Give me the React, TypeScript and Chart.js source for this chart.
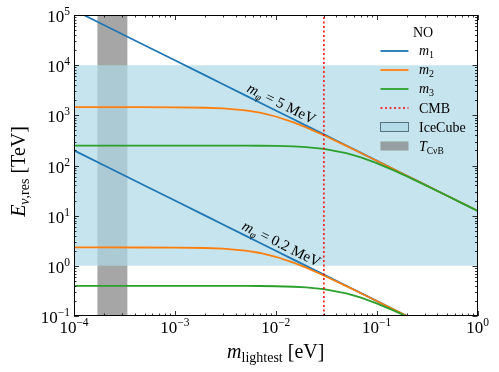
import React, { useEffect, useRef } from "react";
import { Chart, registerables } from "chart.js";

Chart.register(...registerables);

// ---- data ----
const mLightest = [1e-4, 2e-4, 5e-4, 1e-3, 2e-3, 3e-3, 5e-3, 7e-3, 0.01, 0.015, 0.02, 0.03, 0.05, 0.07, 0.1, 0.15, 0.2, 0.3, 0.5, 0.7, 1];

// m_phi = 5 MeV
const e5m1 = [125000, 62500, 25000, 12500, 6250, 4167, 2500, 1786, 1250, 833, 625, 417, 250, 178.6, 125, 83.3, 62.5, 41.7, 25, 17.86, 12.5];
const e5m2 = [1453, 1453, 1451, 1443, 1415, 1372, 1256, 1127, 948, 723, 574, 400.5, 246.4, 177.2, 124.5, 83.2, 62.4, 41.65, 25.0, 17.86, 12.5];
const e5m3 = [250, 250, 250, 249.95, 249.8, 249.6, 248.8, 247.6, 245.1, 239.5, 232.1, 214.4, 176.8, 145.3, 111.8, 79.06, 60.63, 41.1, 24.88, 17.81, 12.48];

// m_phi = 0.2 MeV
const e02m1 = [200, 100, 40, 20, 10, 6.67, 4, 2.857, 2, 1.333, 1, 0.667, 0.4, 0.2857, 0.2, 0.1333, 0.1, 0.0667, 0.04, 0.0286, 0.02];
const e02m2 = [2.325, 2.324, 2.321, 2.309, 2.265, 2.195, 2.01, 1.803, 1.516, 1.157, 0.919, 0.641, 0.394, 0.2836, 0.1993, 0.1331, 0.0999, 0.0666, 0.04, 0.0286, 0.02];
const e02m3 = [0.4, 0.4, 0.4, 0.3999, 0.3997, 0.3993, 0.398, 0.3961, 0.3922, 0.3831, 0.3714, 0.343, 0.2828, 0.2325, 0.1789, 0.1265, 0.097, 0.0658, 0.0398, 0.0285, 0.02];

const massLabels = ["5 MeV", "0.2 MeV"];
const iceCubeRange = [1, 1e4];
const tCnuBRange = [1.7e-4, 3.4e-4];
const cmbMass = 0.03;

const xRange = [1e-4, 1];
const yRange = [0.1, 1e5];
const xTickExps = [-4, -3, -2, -1, 0];
const yTickExps = [-1, 0, 1, 2, 3, 4, 5];

const legendTitle = "NO";

// ---- styles ----
const C1 = "#1f77b4";
const C2 = "#ff7f0e";
const C3 = "#2ca02c";
const CMB_COLOR = "#ff0000";
const ICE_FILL = "rgba(173,216,230,0.7)";
const ICE_EDGE = "rgba(70,95,110,0.85)";
const GRAY_FILL = "rgba(128,128,128,0.7)";
const SERIF = '"Liberation Serif", "DejaVu Serif", serif';

type Seg = { t: string; f: string; dy?: number };

function segsWidth(ctx: CanvasRenderingContext2D, segs: Seg[]) {
  let w = 0;
  for (const s of segs) {
    ctx.font = s.f;
    w += ctx.measureText(s.t).width;
  }
  return w;
}

function drawSegs(ctx: CanvasRenderingContext2D, segs: Seg[], x: number, y: number, align: "left" | "center" | "right") {
  const w = segsWidth(ctx, segs);
  let cx = align === "left" ? x : align === "center" ? x - w / 2 : x - w;
  ctx.textAlign = "left";
  ctx.textBaseline = "alphabetic";
  for (const s of segs) {
    ctx.font = s.f;
    ctx.fillText(s.t, cx, y + (s.dy || 0));
    cx += ctx.measureText(s.t).width;
  }
}

function powSegs(exp: number): Seg[] {
  const e = exp < 0 ? "\u2212" + Math.abs(exp) : String(exp);
  return [
    { t: "10", f: `17px ${SERIF}` },
    { t: e, f: `11.5px ${SERIF}`, dy: -7 },
  ];
}

function line(ctx: CanvasRenderingContext2D, x1: number, y1: number, x2: number, y2: number) {
  ctx.beginPath();
  ctx.moveTo(x1, y1);
  ctx.lineTo(x2, y2);
  ctx.stroke();
}

const decorPlugin = {
  id: "decor",
  afterDraw(chart: any) {
    const ctx: CanvasRenderingContext2D = chart.ctx;
    const xs = chart.scales.x;
    const ys = chart.scales.y;
    const a = chart.chartArea;
    ctx.save();

    // frame
    ctx.strokeStyle = "#000";
    ctx.lineWidth = 1;
    ctx.strokeRect(Math.round(a.left) + 0.5, Math.round(a.top) + 0.5, Math.round(a.right - a.left) - 1, Math.round(a.bottom - a.top) - 1);

    // ticks (inward, all sides)
    const MAJ = 5;
    const MIN = 2.5;
    ctx.lineWidth = 0.8;
    for (let i = 0; i < xTickExps.length; i++) {
      const e = xTickExps[i];
      const px = Math.round(xs.getPixelForValue(Math.pow(10, e))) + 0.5;
      line(ctx, px, a.bottom, px, a.bottom - MAJ);
      line(ctx, px, a.top, px, a.top + MAJ);
      if (i < xTickExps.length - 1) {
        for (let k = 2; k <= 9; k++) {
          const mx = Math.round(xs.getPixelForValue(k * Math.pow(10, e))) + 0.5;
          line(ctx, mx, a.bottom, mx, a.bottom - MIN);
          line(ctx, mx, a.top, mx, a.top + MIN);
        }
      }
    }
    for (let i = 0; i < yTickExps.length; i++) {
      const e = yTickExps[i];
      const py = Math.round(ys.getPixelForValue(Math.pow(10, e))) + 0.5;
      line(ctx, a.left, py, a.left + MAJ, py);
      line(ctx, a.right, py, a.right - MAJ, py);
      if (i < yTickExps.length - 1) {
        for (let k = 2; k <= 9; k++) {
          const my = Math.round(ys.getPixelForValue(k * Math.pow(10, e))) + 0.5;
          line(ctx, a.left, my, a.left + MIN, my);
          line(ctx, a.right, my, a.right - MIN, my);
        }
      }
    }

    // tick labels
    ctx.fillStyle = "#000";
    for (const e of xTickExps) {
      const px = xs.getPixelForValue(Math.pow(10, e));
      drawSegs(ctx, powSegs(e), px, a.bottom + 17, "center");
    }
    for (const e of yTickExps) {
      const py = ys.getPixelForValue(Math.pow(10, e));
      drawSegs(ctx, powSegs(e), a.left - 4, py + 7, "right");
    }

    // axis titles
    const cxPlot = (a.left + a.right) / 2;
    drawSegs(
      ctx,
      [
        { t: "m", f: `italic 20px ${SERIF}` },
        { t: "lightest", f: `14px ${SERIF}`, dy: 4 },
        { t: " [eV]", f: `20px ${SERIF}` },
      ],
      cxPlot,
      358,
      "center"
    );
    ctx.save();
    ctx.translate(25, (a.top + a.bottom) / 2 + 6);
    ctx.rotate(-Math.PI / 2);
    drawSegs(
      ctx,
      [
        { t: "E", f: `italic 20px ${SERIF}` },
        { t: "\u03bd", f: `italic 14px ${SERIF}`, dy: 4 },
        { t: ",res", f: `14px ${SERIF}`, dy: 4 },
        { t: " [TeV]", f: `20px ${SERIF}` },
      ],
      0,
      0,
      "center"
    );
    ctx.restore();

    // line annotations
    const groups = [e5m1, e02m1];
    for (let g = 0; g < groups.length; g++) {
      const vals = groups[g];
      const p1x = xs.getPixelForValue(mLightest[6]);
      const p1y = ys.getPixelForValue(vals[6]);
      const p2x = xs.getPixelForValue(mLightest[10]);
      const p2y = ys.getPixelForValue(vals[10]);
      const ang = Math.atan2(p2y - p1y, p2x - p1x);
      const ax = xs.getPixelForValue(mLightest[8]);
      const ay = ys.getPixelForValue(vals[8]);
      ctx.save();
      ctx.translate(ax, ay);
      ctx.rotate(ang);
      drawSegs(
        ctx,
        [
          { t: "m", f: `italic 15px ${SERIF}` },
          { t: "\u03c6", f: `italic 10px ${SERIF}`, dy: 3 },
          { t: " = " + massLabels[g], f: `15px ${SERIF}` },
        ],
        2,
        -4,
        "center"
      );
      ctx.restore();
    }

    // legend
    const hx1 = 380.5;
    const hx2 = 408.5;
    const tx = 419;
    const rows = [51, 70, 89, 108, 127, 146];
    ctx.fillStyle = "#000";
    drawSegs(ctx, [{ t: legendTitle, f: `14px ${SERIF}` }], 423, 36.5, "center");
    const lineEntries = [
      { c: C1, sub: "1" },
      { c: C2, sub: "2" },
      { c: C3, sub: "3" },
    ];
    lineEntries.forEach((le, i) => {
      ctx.strokeStyle = le.c;
      ctx.lineWidth = 1.8;
      ctx.setLineDash([]);
      line(ctx, hx1, rows[i], hx2, rows[i]);
      ctx.fillStyle = "#000";
      drawSegs(
        ctx,
        [
          { t: "m", f: `italic 14px ${SERIF}` },
          { t: le.sub, f: `10px ${SERIF}`, dy: 3 },
        ],
        tx,
        rows[i] + 3.5,
        "left"
      );
    });
    ctx.strokeStyle = CMB_COLOR;
    ctx.lineWidth = 1.5;
    ctx.setLineDash([2, 2.5]);
    line(ctx, hx1, rows[3], hx2, rows[3]);
    ctx.setLineDash([]);
    drawSegs(ctx, [{ t: "CMB", f: `14px ${SERIF}` }], tx, rows[3] + 4.5, "left");

    ctx.fillStyle = ICE_FILL;
    ctx.fillRect(hx1, rows[4] - 4.5, hx2 - hx1, 9);
    ctx.strokeStyle = ICE_EDGE;
    ctx.lineWidth = 1;
    ctx.strokeRect(hx1, rows[4] - 4.5, hx2 - hx1, 9);
    ctx.fillStyle = "#000";
    drawSegs(ctx, [{ t: "IceCube", f: `14px ${SERIF}` }], tx, rows[4] + 4.5, "left");

    ctx.fillStyle = GRAY_FILL;
    ctx.fillRect(hx1, rows[5] - 4.5, hx2 - hx1, 9);
    ctx.fillStyle = "#000";
    drawSegs(
      ctx,
      [
        { t: "T", f: `italic 14px ${SERIF}` },
        { t: "C\u03bdB", f: `9.5px ${SERIF}`, dy: 3 },
      ],
      tx,
      rows[5] + 4.5,
      "left"
    );

    ctx.restore();
  },
};

function pts(vals: number[]) {
  return mLightest.map((x, i) => ({ x, y: vals[i] }));
}

function lineDs(label: string, vals: number[], color: string, order: number) {
  return {
    label,
    data: pts(vals),
    borderColor: color,
    backgroundColor: color,
    borderWidth: 1.8,
    pointRadius: 0,
    tension: 0,
    fill: false,
    order,
  };
}

export default function App() {
  const ref = useRef<HTMLCanvasElement | null>(null);
  useEffect(() => {
    if (!ref.current) return;
    const chart = new Chart(ref.current, {
      type: "line",
      data: {
        datasets: [
          {
            label: "CMB",
            data: [
              { x: cmbMass, y: yRange[0] },
              { x: cmbMass, y: yRange[1] },
            ],
            borderColor: CMB_COLOR,
            borderDash: [2, 2.5],
            borderWidth: 1.5,
            pointRadius: 0,
            fill: false,
            order: 1,
          },
          lineDs("m3 (5 MeV)", e5m3, C3, 2),
          lineDs("m3 (0.2 MeV)", e02m3, C3, 2),
          lineDs("m2 (5 MeV)", e5m2, C2, 3),
          lineDs("m2 (0.2 MeV)", e02m2, C2, 3),
          lineDs("m1 (5 MeV)", e5m1, C1, 4),
          lineDs("m1 (0.2 MeV)", e02m1, C1, 4),
          {
            label: "IceCube",
            data: [
              { x: xRange[0], y: iceCubeRange[1] },
              { x: xRange[1], y: iceCubeRange[1] },
            ],
            borderWidth: 0,
            borderColor: "rgba(0,0,0,0)",
            backgroundColor: ICE_FILL,
            pointRadius: 0,
            fill: { value: iceCubeRange[0] },
            order: 8,
          },
          {
            label: "TCnuB",
            data: [
              { x: tCnuBRange[0], y: yRange[1] },
              { x: tCnuBRange[1], y: yRange[1] },
            ],
            borderWidth: 0,
            borderColor: "rgba(0,0,0,0)",
            backgroundColor: GRAY_FILL,
            pointRadius: 0,
            fill: { value: yRange[0] },
            order: 9,
          },
        ] as any,
      },
      options: {
        animation: false,
        responsive: false,
        devicePixelRatio: 1,
        layout: { padding: { left: 74, right: 21.5, top: 15, bottom: 56 } },
        scales: {
          x: { type: "logarithmic", min: xRange[0], max: xRange[1], display: false },
          y: { type: "logarithmic", min: yRange[0], max: yRange[1], display: false },
        },
        plugins: {
          legend: { display: false },
          tooltip: { enabled: false },
        },
        events: [],
      } as any,
      plugins: [decorPlugin],
    });
    return () => chart.destroy();
  }, []);
  return (
    <div style={{ position: "fixed", left: 0, top: 0, width: 499, height: 372, background: "#fff" }}>
      <canvas ref={ref} width={499} height={372} style={{ width: 499, height: 372, display: "block" }} />
    </div>
  );
}
